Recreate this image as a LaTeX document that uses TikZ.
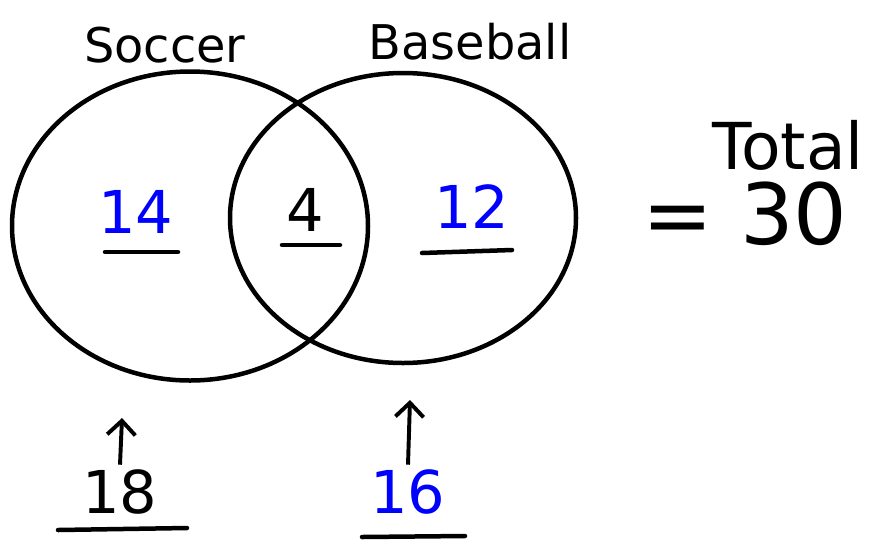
\documentclass[tikz,border=0pt]{standalone}
\usepackage{fontspec}
\setmainfont{DejaVu Sans}
\usepackage{tikz}
\usetikzlibrary{shapes.geometric,arrows.meta,positioning}

\begin{document}
\begin{tikzpicture}[
    x=0.025cm, y=-0.025cm,
    set/.style={
        draw=black,
        ellipse,
        line width=3.2pt
    },
    count/.style={
        text=blue,
        font=\fontsize{42}{42}\selectfont
    },
    word/.style={
        text=black,
        font=\fontsize{34}{34}\selectfont
    },
    blank/.style={
        line width=3.2pt,
        line cap=round
    },
    pointer/.style={
        -{Straight Barb[length=10pt,width=20pt,line width=2.8pt]},
        line width=2.8pt
    }
]
\useasboundingbox (0,0) rectangle (881,542);
% The two sets
\node[set, minimum width=356*0.025cm, minimum height=309*0.025cm] at (190,226) (soccer) {};
\node[set, minimum width=346*0.025cm, minimum height=290*0.025cm] at (403,218) (baseball) {};
% Set names
\node[word] at (165,45) (soccerlbl) {Soccer};
\node[word] at (470,42) (baseballlbl) {Baseball};
% Counts inside the sets
\node[count] at (136,212) (only14) {14};
\node[count, text=black] at (305,210) (both4) {4};
\node[count] at (472,207) (only12) {12};
\draw[blank] (105,252) -- (178,252);
\draw[blank] (282,245) -- (340,245);
\draw[blank] (422,253) -- (512,250);
% Total
\node[word, font=\fontsize{46}{46}\selectfont] at (788,145) (total) {Total};
\node[word, font=\fontsize{60}{60}\selectfont] at (745,214) (sum) {= 30};
% Totals of each set
\node[count, text=black] at (120,492) (all18) {18};
\node[count] at (408,492) (all16) {16};
\draw[blank] (58,530) -- (187,528);
\draw[blank] (362,537) -- (465,536);
\coordinate (soccerbot) at (122,418);
\coordinate (baseballbot) at (410,400);
\draw[pointer] (all18.north) -- (soccerbot);
\draw[pointer] (all16.north) -- (baseballbot);
\end{tikzpicture}
\end{document}
